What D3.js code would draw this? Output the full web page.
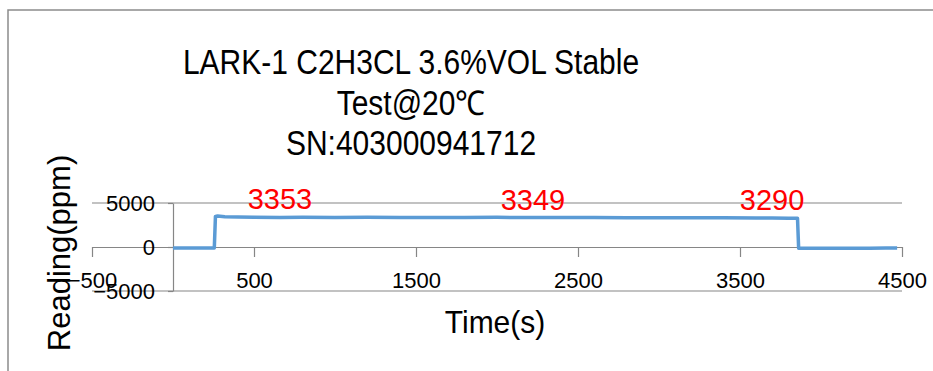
<!DOCTYPE html>
<html>
<head>
<meta charset="utf-8">
<script src="https://cdn.jsdelivr.net/npm/d3@7"></script>
<style>
  body { margin: 0; background: #fff; }
  svg { display: block; }
</style>
</head>
<body>
<div id="chart"></div>
<script>
// title lines
const titleLines = ['LARK-1 C2H3CL 3.6%VOL Stable', 'Test@20℃', 'SN:403000941712'];

// time series (s, ppm)
const times = [0, 100, 200, 255, 262, 275, 320, 400, 500, 660, 800, 1000, 1200, 1400, 1600, 1800, 2000, 2222, 2400, 2600, 2800, 3000, 3200, 3400, 3600, 3698, 3800, 3855, 3862, 3880, 4000, 4100, 4200, 4300, 4400, 4470];
const readings = [-110, -120, -110, -100, 3480, 3520, 3440, 3400, 3380, 3353, 3370, 3360, 3380, 3350, 3360, 3340, 3370, 3349, 3360, 3340, 3330, 3320, 3330, 3310, 3300, 3290, 3280, 3270, -130, -150, -140, -130, -150, -140, -120, -110];

// red data labels
const labelTimes = [660, 2222, 3698];
const labelValues = [3353, 3349, 3290];

// axis ticks
const xTicks = [-500, 500, 1500, 2500, 3500, 4500];
const yTicks = [-5000, 0, 5000];

const W = 933, H = 371;

const svg = d3.select('#chart')
  .append('svg')
  .attr('width', W)
  .attr('height', H);

svg.append('rect').attr('width', W).attr('height', H).attr('fill', '#fff');

// chart frame (only top and left visible)
svg.append('path')
  .attr('d', `M8,${H} L8,10 L${W},10`)
  .attr('fill', 'none')
  .attr('stroke', '#8c8c8c')
  .attr('stroke-width', 1.5);

const x = d3.scaleLinear().domain([-500, 4500]).range([92, 902]);
const y = d3.scaleLinear().domain([-5000, 5000]).range([291, 203]);

// title (the picture is a bit taller than the font, so stretch it)
svg.append('g')
  .selectAll('text')
  .data(titleLines)
  .enter()
  .append('text')
  .attr('transform', (d, i) => `translate(411,${74 + i * 40.5}) scale(1,1.14)`)
  .attr('text-anchor', 'middle')
  .attr('font-family', 'Liberation Sans, Arial, sans-serif')
  .attr('font-size', 30)
  .attr('fill', '#000')
  .text(d => d);

// horizontal gridlines
svg.append('g')
  .selectAll('line')
  .data(yTicks.filter(d => d !== 0))
  .enter()
  .append('line')
  .attr('x1', 92)
  .attr('x2', 902)
  .attr('y1', d => y(d))
  .attr('y2', d => y(d))
  .attr('stroke', '#868686')
  .attr('stroke-width', 1.2);

// x axis at y = 0
const xAxis = svg.append('g')
  .attr('transform', `translate(0,${y(0)})`)
  .call(d3.axisBottom(x).tickValues(xTicks).tickSize(10).tickSizeOuter(0).tickFormat(d3.format('d')));
xAxis.select('.domain').attr('stroke', '#868686').attr('stroke-width', 1.2);
xAxis.selectAll('.tick line').attr('stroke', '#868686').attr('stroke-width', 1.2);
xAxis.selectAll('.tick text')
  .attr('y', 0)
  .attr('dy', null)
  .attr('transform', `translate(0,${288 - y(0)})`)
  .attr('font-family', 'Liberation Sans, Arial, sans-serif')
  .attr('font-size', 22)
  .attr('fill', '#000');

// y axis at x = 0
const yAxis = svg.append('g')
  .attr('transform', `translate(${x(0)},0)`)
  .call(d3.axisLeft(y).tickValues(yTicks).tickSize(5).tickSizeOuter(0).tickFormat(d3.format('d')));
yAxis.select('.domain').attr('stroke', '#868686').attr('stroke-width', 1.2);
yAxis.selectAll('.tick line').attr('stroke', '#868686').attr('stroke-width', 1.2);
yAxis.selectAll('.tick text')
  .attr('x', 155 - x(0))
  .attr('font-family', 'Liberation Sans, Arial, sans-serif')
  .attr('font-size', 22)
  .attr('fill', '#000');

// series line
const data = times.map((t, i) => ({ t: t, v: readings[i] }));
const line = d3.line()
  .x(d => x(d.t))
  .y(d => y(d.v));

svg.append('path')
  .datum(data)
  .attr('fill', 'none')
  .attr('stroke', '#5b9bd5')
  .attr('stroke-width', 3.5)
  .attr('stroke-linejoin', 'round')
  .attr('d', line);

// red value labels
svg.append('g')
  .selectAll('text')
  .data(labelTimes)
  .enter()
  .append('text')
  .attr('x', d => x(d))
  .attr('y', (d, i) => y(labelValues[i]) - 8)
  .attr('text-anchor', 'middle')
  .attr('font-family', 'Liberation Sans, Arial, sans-serif')
  .attr('font-size', 29)
  .attr('fill', '#ff0000')
  .text((d, i) => labelValues[i]);

// axis titles
svg.append('text')
  .attr('transform', 'translate(495,333) scale(1,1.05)')
  .attr('text-anchor', 'middle')
  .attr('font-family', 'Liberation Sans, Arial, sans-serif')
  .attr('font-size', 30)
  .text('Time(s)');

svg.append('text')
  .attr('transform', 'translate(70,253) rotate(-90)')
  .attr('text-anchor', 'middle')
  .attr('font-family', 'Liberation Sans, Arial, sans-serif')
  .attr('font-size', 31)
  .text('Reading(ppm)');
</script>
</body>
</html>
